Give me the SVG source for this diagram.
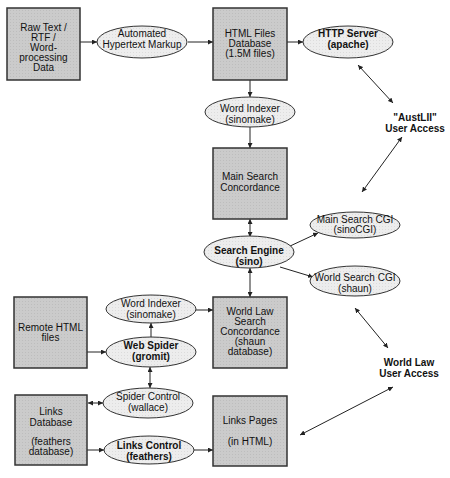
<svg xmlns="http://www.w3.org/2000/svg" width="450" height="478" viewBox="0 0 450 478">
<style>
.box{fill:url(#boxfill);stroke:#333;stroke-width:1.5}
.ell{fill:url(#ellfill);stroke:#333;stroke-width:1}
text{font-family:"Liberation Sans",Arial,sans-serif;font-size:10px;fill:#111;text-anchor:middle}
.b{font-weight:bold}
.c line{stroke:#222;stroke-width:1}
</style>
<defs>
<pattern id="boxfill" width="3" height="3" patternUnits="userSpaceOnUse">
<rect width="3" height="3" fill="#cbcbcb"/><rect x="1" y="1" width="1" height="1" fill="#bdbdbd"/>
</pattern>
<pattern id="ellfill" width="3" height="3" patternUnits="userSpaceOnUse">
<rect width="3" height="3" fill="#ededed"/><rect x="1" y="1" width="1" height="1" fill="#dcdcdc"/>
</pattern>
<marker id="ah" viewBox="0 0 6 6" refX="6" refY="3" markerWidth="5" markerHeight="5" markerUnits="userSpaceOnUse" orient="auto-start-reverse">
<path d="M0,0 L6,3 L0,6 z" fill="#222"/>
</marker>
</defs>
<rect width="450" height="478" fill="#fff"/>
<g class="c" id="connectors">
<line x1="80" y1="42" x2="97" y2="42" marker-end="url(#ah)"/>
<line x1="188" y1="42" x2="213" y2="42" marker-end="url(#ah)"/>
<line x1="287" y1="42" x2="303" y2="42" marker-end="url(#ah)"/>
<line x1="250" y1="80" x2="250" y2="97" marker-end="url(#ah)"/>
<line x1="250" y1="127" x2="250" y2="148" marker-end="url(#ah)"/>
<line x1="250" y1="219" x2="250" y2="237" marker-start="url(#ah)" marker-end="url(#ah)"/>
<line x1="288" y1="247" x2="318" y2="233" marker-end="url(#ah)"/>
<line x1="280" y1="267" x2="313" y2="277" marker-end="url(#ah)"/>
<line x1="250" y1="268" x2="250" y2="297" marker-start="url(#ah)" marker-end="url(#ah)"/>
<line x1="358" y1="65" x2="393" y2="103" marker-start="url(#ah)" marker-end="url(#ah)"/>
<line x1="402" y1="137" x2="362" y2="192" marker-start="url(#ah)" marker-end="url(#ah)"/>
<line x1="355" y1="308" x2="388" y2="348" marker-start="url(#ah)" marker-end="url(#ah)"/>
<line x1="393" y1="387" x2="300" y2="435" marker-start="url(#ah)" marker-end="url(#ah)"/>
<line x1="196" y1="310" x2="213" y2="310" marker-end="url(#ah)"/>
<line x1="151" y1="337" x2="151" y2="323" marker-end="url(#ah)"/>
<line x1="87" y1="352" x2="106" y2="352" marker-end="url(#ah)"/>
<line x1="150" y1="367" x2="150" y2="388" marker-start="url(#ah)" marker-end="url(#ah)"/>
<line x1="88" y1="403" x2="103" y2="403" marker-start="url(#ah)" marker-end="url(#ah)"/>
<line x1="87" y1="450" x2="104" y2="450" marker-end="url(#ah)"/>
<line x1="194" y1="450" x2="213" y2="450" marker-end="url(#ah)"/>
</g>
<g id="raw"><rect class="box" x="7" y="8" width="73" height="72"/>
<text x="43.5" y="31">Raw Text /</text><text x="43.5" y="41">RTF /</text><text x="43.5" y="51">Word-</text><text x="43.5" y="61">processing</text><text x="43.5" y="71">Data</text></g>
<g id="markup"><ellipse class="ell" cx="142" cy="42" rx="45" ry="16"/>
<text x="142" y="37">Automated</text><text x="142" y="47.5">Hypertext Markup</text></g>
<g id="htmlfiles"><rect class="box" x="213" y="8" width="74" height="72"/>
<text x="250" y="37">HTML Files</text><text x="250" y="47">Database</text><text x="250" y="57">(1.5M files)</text></g>
<g id="http"><ellipse class="ell" cx="348" cy="42" rx="45" ry="16"/>
<text class="b" x="348" y="37">HTTP Server</text><text class="b" x="348" y="48">(apache)</text></g>
<g id="wordindexer1"><ellipse class="ell" cx="250" cy="112" rx="45" ry="15"/>
<text x="250" y="112">Word Indexer</text><text x="250" y="123">(sinomake)</text></g>
<g id="austlii"><text class="b" x="415" y="121">"AustLII"</text><text class="b" x="415" y="132">User Access</text></g>
<g id="mainconc"><rect class="box" x="213" y="148" width="74" height="71"/>
<text x="250" y="180">Main Search</text><text x="250" y="191">Concordance</text></g>
<g id="maincgi"><ellipse class="ell" cx="355" cy="225" rx="45" ry="13"/>
<text x="355" y="223">Main Search CGI</text><text x="355" y="233">(sinoCGI)</text></g>
<g id="engine"><ellipse class="ell" cx="249" cy="252" rx="45" ry="16"/>
<text class="b" x="249" y="254">Search Engine</text><text class="b" x="249" y="265">(sino)</text></g>
<g id="worldcgi"><ellipse class="ell" cx="355" cy="281" rx="45" ry="15"/>
<text x="355" y="281">World Search CGI</text><text x="355" y="292">(shaun)</text></g>
<g id="remote"><rect class="box" x="14" y="297" width="73" height="71"/>
<text x="50.5" y="331">Remote HTML</text><text x="50.5" y="341">files</text></g>
<g id="wordindexer2"><ellipse class="ell" cx="151" cy="309" rx="45" ry="14"/>
<text x="151" y="307">Word Indexer</text><text x="151" y="318">(sinomake)</text></g>
<g id="worldconc"><rect class="box" x="213" y="297" width="74" height="71"/>
<text x="250" y="315">World Law</text><text x="250" y="325">Search</text><text x="250" y="335">Concordance</text><text x="250" y="345">(shaun</text><text x="250" y="355">database)</text></g>
<g id="spider"><ellipse class="ell" cx="151" cy="352" rx="45" ry="15"/>
<text class="b" x="151" y="349">Web Spider</text><text class="b" x="151" y="360">(gromit)</text></g>
<g id="worldaccess"><text class="b" x="409" y="366">World Law</text><text class="b" x="409" y="377">User Access</text></g>
<g id="spidercontrol"><ellipse class="ell" cx="148" cy="403" rx="45" ry="15"/>
<text x="148" y="400">Spider Control</text><text x="148" y="411">(wallace)</text></g>
<g id="linksdb"><rect class="box" x="15" y="395" width="72" height="70"/>
<text x="51" y="415">Links</text><text x="51" y="426">Database</text><text x="51" y="445">(feathers</text><text x="51" y="455">database)</text></g>
<g id="linkscontrol"><ellipse class="ell" cx="149" cy="450" rx="45" ry="14"/>
<text class="b" x="149" y="449">Links Control</text><text class="b" x="149" y="460">(feathers)</text></g>
<g id="linkspages"><rect class="box" x="213" y="396" width="74" height="70"/>
<text x="250" y="424">Links Pages</text><text x="250" y="445">(in HTML)</text></g>
</svg>
